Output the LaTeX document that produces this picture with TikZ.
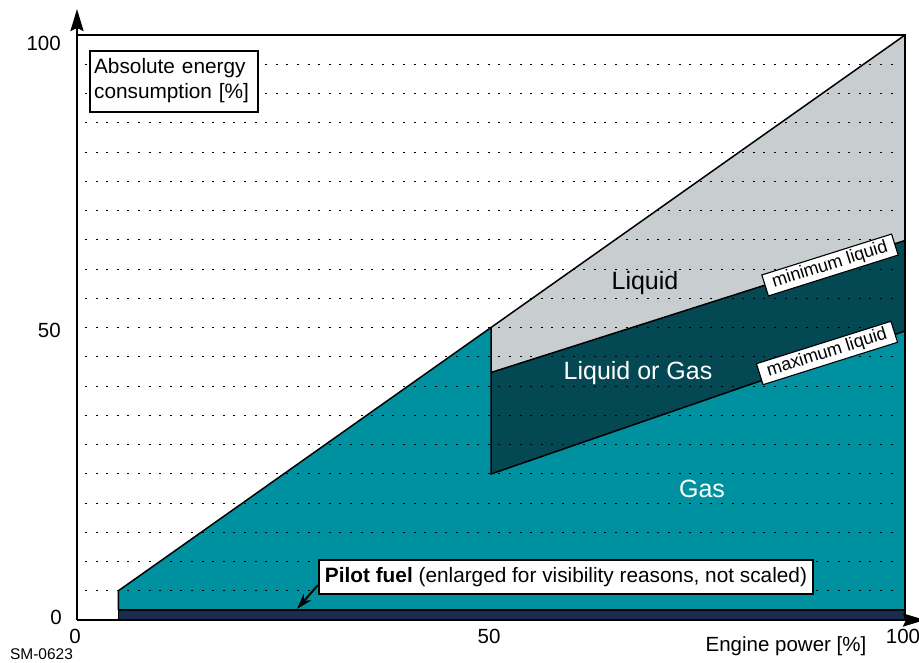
\documentclass[tikz,border=0pt]{standalone}
\usepackage{fontspec}
\setmainfont{Liberation Sans}
\usetikzlibrary{arrows.meta}
\definecolor{gasc}{RGB}{0,145,160}
\definecolor{mixc}{RGB}{3,72,82}
\definecolor{liqc}{RGB}{200,205,208}
\definecolor{pilotc}{RGB}{28,44,78}
\tikzset{
  region/.style={draw=black, line width=1.5pt, line join=miter},
  gridline/.style={black, line width=1pt, dash pattern=on 2pt off 8.6pt},
  axisline/.style={line width=2.6pt, -{Stealth[length=22pt,width=13pt,inset=3pt]}},
  framel/.style={line width=2.2pt},
  ticklbl/.style={font=\fontsize{20.5}{24}\selectfont, inner sep=0pt},
  boxlbl/.style={draw, fill=white, line width=2.2pt, font=\fontsize{20.8}{25}\selectfont},
  curvelbl/.style={draw, fill=white, line width=1.1pt, rotate=17.5, inner xsep=8pt, inner ysep=0pt, minimum height=22pt, font=\fontsize{18}{20}\selectfont},
  arealbl/.style={font=\fontsize{25}{28}\selectfont, inner sep=0pt}
}
\begin{document}
\begin{tikzpicture}[x=1pt,y=-1pt]
\useasboundingbox (0,0) rectangle (919,662);
% regions
\fill[gasc] (118.4,610) -- (118.4,590.75) -- (491,327.5) -- (491,474) -- (905,331) -- (905,610) -- cycle;
\fill[mixc] (491,474) -- (491,372.5) -- (905,240.5) -- (905,331) -- cycle;
\fill[liqc] (491,372.5) -- (491,327.5) -- (905,35) -- (905,240.5) -- cycle;
% grid lines
\foreach \k in {1,...,19} {
  \draw[gridline] (85,{620-29.25*\k}) -- (899,{620-29.25*\k});
}
% region borders
\draw[region] (118.4,610) -- (118.4,590.75) -- (905,35);
\draw[region] (491,327.5) -- (491,474) -- (905,331);
\draw[region] (491,372.5) -- (905,240.5);
% pilot fuel bar
\filldraw[fill=pilotc, draw=black, line width=1.3pt] (118.4,610) rectangle (905,620);
% frame and axes
\coordinate (origin) at (77,620);
\coordinate (ytip) at (77,9);
\coordinate (xtip) at (925,620);
\coordinate (tl) at (77,35);
\coordinate (tr) at (905,35);
\coordinate (br) at (905,620);
\draw[framel] (tl) -- (tr) -- (br);
\draw[axisline] (origin) -- (ytip);
\draw[axisline] (origin) -- (xtip);
% tick labels
\node[ticklbl, anchor=base east] (y100) at (61,50) {100};
\node[ticklbl, anchor=base east] (y50) at (61,337) {50};
\node[ticklbl, anchor=base east] (y0) at (62,624) {0};
\node[ticklbl, anchor=base] (x0) at (75,643) {0};
\node[ticklbl, anchor=base] (x50) at (489,643) {50};
\node[ticklbl, anchor=base] (x100) at (903,643) {100};
\node[ticklbl, anchor=base] (xtitle) at (786,651) {Engine power [\%]};
\node[inner sep=0pt, anchor=base, font=\fontsize{15.5}{18}\selectfont] (sm) at (41.5,659.5) {SM-0623};
% y title box
\node[boxlbl, anchor=north west, inner xsep=4.5pt, text width=159.5pt, align=left, minimum height=61pt] (ytitle) at (88.5,49.5) {Absolute energy\\consumption [\%]};
% area labels
\node[arealbl, text=black] (liq) at (645,283) {Liquid};
\node[arealbl, text=white] (mix) at (638,373) {Liquid or Gas};
\node[arealbl, text=white] (gas) at (702,489) {Gas};
% curve labels
\node[curvelbl] (minliq) at (830,265) {minimum liquid};
\node[curvelbl] (maxliq) at (827,353) {maximum liquid};
% pilot fuel label
\node[boxlbl, minimum width=494pt, minimum height=34pt, inner sep=0pt] (pilot) at (566,577) {\textbf{Pilot fuel} (enlarged for visibility reasons, not scaled)};
\coordinate (pilottip) at (297,609);
\draw[line width=2pt, -{Stealth[length=16pt,width=10pt]}] ([yshift=10pt]pilot.south west) -- (pilottip);
\end{tikzpicture}
\end{document}
